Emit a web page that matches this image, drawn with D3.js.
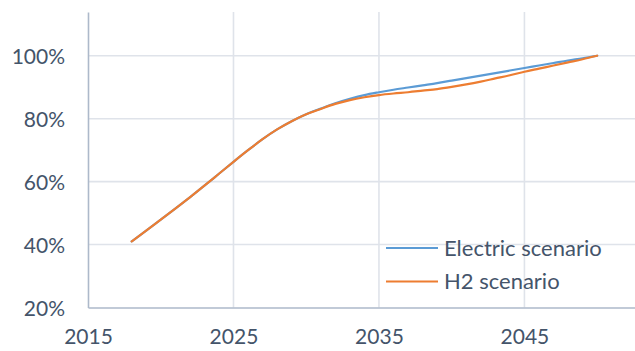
<!DOCTYPE html>
<html>
<head>
<meta charset="utf-8">
<script src="https://cdn.jsdelivr.net/npm/d3@7"></script>
<style>
  html, body { margin: 0; padding: 0; background: #fff; }
  svg { display: block; }
  text { font-family: Lato, "Open Sans", sans-serif; fill: #44546A; }
</style>
</head>
<body>
<svg id="chart" width="635" height="351"></svg>
<script>
// Share of final value by year, per scenario (%)
const years = [2018, 2019, 2020, 2021, 2022, 2023, 2024, 2025, 2026, 2027, 2028, 2029,
  2030, 2031, 2032, 2033, 2034, 2035, 2036, 2037, 2038, 2039, 2040, 2041, 2042, 2043,
  2044, 2045, 2046, 2047, 2048, 2049, 2050];
const electric = [41.0, 44.4, 47.9, 51.4, 55.0, 58.7, 62.5, 66.3, 70.0, 73.5, 76.6, 79.2,
  81.4, 83.2, 84.9, 86.3, 87.5, 88.4, 89.2, 89.9, 90.6, 91.3, 92.1, 92.9, 93.7, 94.5,
  95.3, 96.1, 96.9, 97.7, 98.5, 99.2, 100.0];
const h2 = [41.0, 44.4, 47.9, 51.4, 55.0, 58.7, 62.5, 66.3, 70.0, 73.5, 76.6, 79.2,
  81.4, 83.1, 84.7, 85.9, 86.8, 87.5, 88.0, 88.4, 88.9, 89.4, 90.1, 90.9, 91.8, 92.8,
  93.8, 94.9, 95.9, 96.9, 97.9, 98.9, 100.0];
const seriesNames = ["Electric scenario", "H2 scenario"];
const seriesColors = ["#5B9BD5", "#ED7D31"];
const xTicks = [2015, 2025, 2035, 2045];
const yTicks = [20, 40, 60, 80, 100];

const svg = d3.select("#chart");
const plot = { left: 88, right: 635, top: 12, bottom: 307.5 };

const x = d3.scaleLinear().domain([2015, 2052.6]).range([plot.left, plot.right]);
const y = d3.scaleLinear().domain([20, 113.9]).range([plot.bottom, plot.top]);

// Gridlines
const grid = svg.append("g");
grid.selectAll("line.h").data(yTicks.filter(d => d > 20)).join("line")
  .attr("class", "h")
  .attr("x1", plot.left).attr("x2", plot.right)
  .attr("y1", d => y(d)).attr("y2", d => y(d))
  .attr("stroke", "#DFE3EA").attr("stroke-width", 1.6);
grid.selectAll("line.v").data(xTicks.filter(d => d > 2015)).join("line")
  .attr("class", "v")
  .attr("x1", d => x(d)).attr("x2", d => x(d))
  .attr("y1", plot.top).attr("y2", plot.bottom)
  .attr("stroke", "#DFE3EA").attr("stroke-width", 1.6);

// Axes
const yAxis = svg.append("g").attr("transform", `translate(${plot.left},0)`)
  .call(d3.axisLeft(y).tickValues(yTicks).tickSize(0).tickPadding(23)
    .tickFormat(d => d + "%"));
const xAxis = svg.append("g").attr("transform", `translate(0,${plot.bottom})`)
  .call(d3.axisBottom(x).tickValues(xTicks).tickSize(0).tickPadding(22)
    .tickFormat(d3.format("d")));
[yAxis, xAxis].forEach(a => {
  a.select(".domain").attr("stroke", "#ADB9CA").attr("stroke-width", 1.6);
  a.selectAll("text").attr("font-size", 21).attr("fill", "#44546A")
    .attr("font-family", "Lato, 'Open Sans', sans-serif");
});
yAxis.selectAll("text").attr("dy", "0.36em");

// Series lines
const line = d3.line().curve(d3.curveMonotoneX)
  .x((d, i) => x(years[i])).y(d => y(d));
[electric, h2].forEach((vals, k) => {
  svg.append("path").datum(vals)
    .attr("d", line)
    .attr("fill", "none")
    .attr("stroke", seriesColors[k])
    .attr("stroke-width", 2.2)
    .attr("stroke-linecap", "round")
    .attr("stroke-linejoin", "round");
});

// Legend
const legend = svg.append("g").attr("transform", "translate(386,248)");
seriesNames.forEach((name, k) => {
  const g = legend.append("g").attr("transform", `translate(0,${k * 33.5})`);
  g.append("line").attr("x1", 0).attr("x2", 52).attr("y1", 0).attr("y2", 0)
    .attr("stroke", seriesColors[k]).attr("stroke-width", 2.2);
  g.append("text").attr("x", 58).attr("y", 0).attr("dy", "0.35em")
    .attr("font-size", 22).text(name);
});
</script>
</body>
</html>
